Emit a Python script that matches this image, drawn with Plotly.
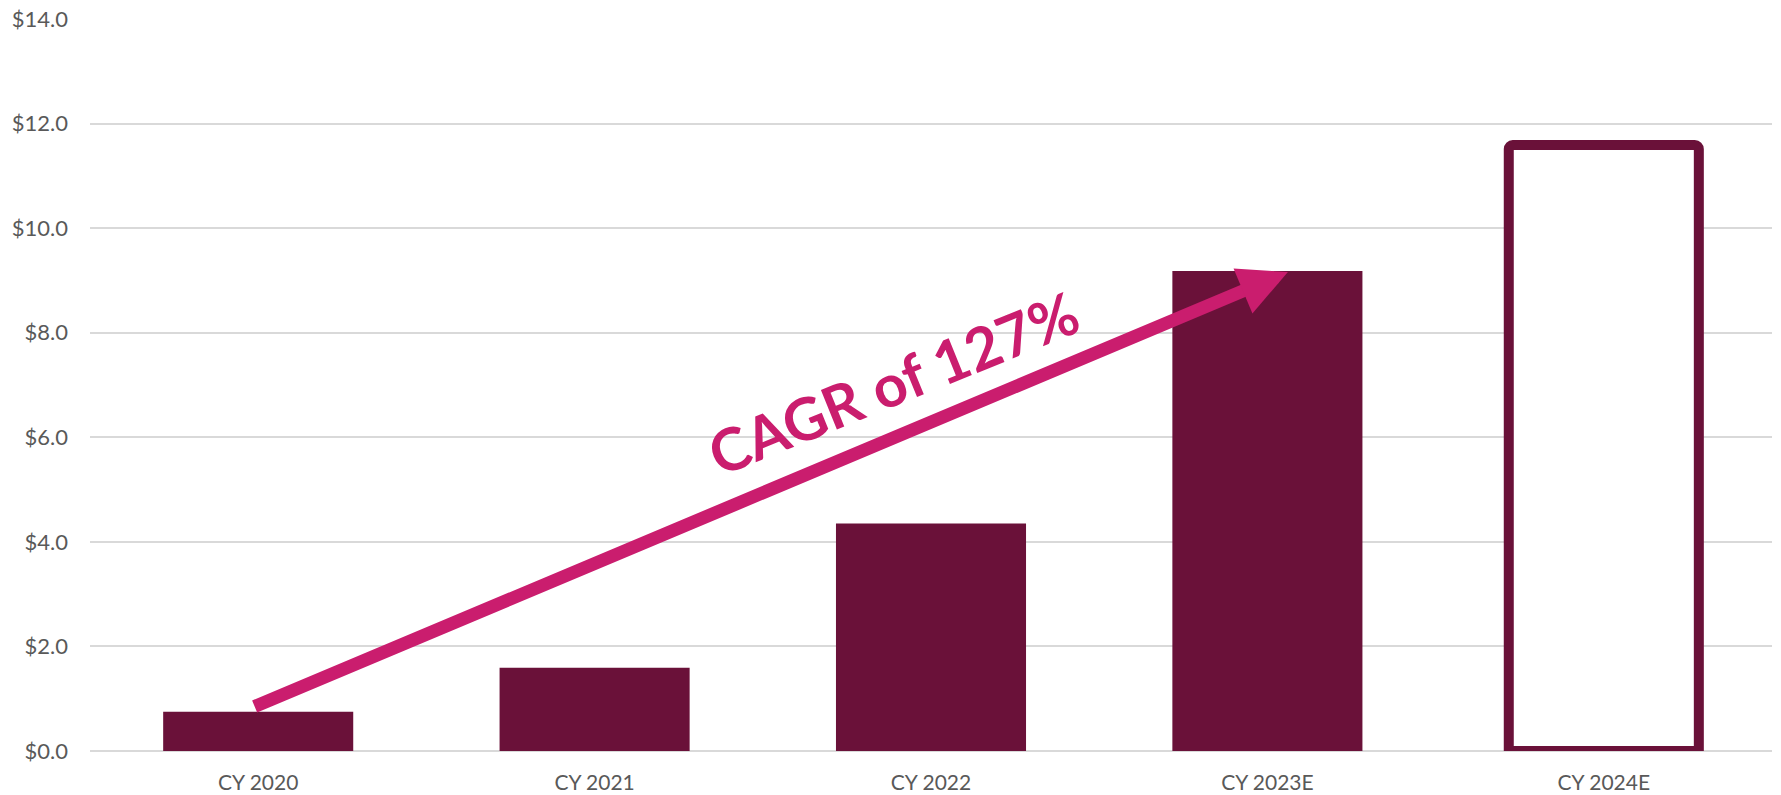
import plotly.graph_objects as go

categories = ["CY 2020", "CY 2021", "CY 2022", "CY 2023E", "CY 2024E"]
values = [0.75, 1.59, 4.35, 9.18, 11.59]
y_ticks = [0, 2, 4, 6, 8, 10, 12, 14]
y_tick_text = ["$%.1f" % v for v in y_ticks]
cagr_label = "CAGR of 127%"

maroon = "#6A1139"
pink = "#CA1D6E"

fig = go.Figure()
# actual years: filled bars
fig.add_trace(go.Bar(
    x=categories[:4], y=values[:4],
    marker=dict(color=maroon, line=dict(width=0)),
    width=0.565, hoverinfo="skip",
))
# estimate year: outlined bar
fig.add_trace(go.Bar(
    x=categories[4:], y=values[4:],
    marker=dict(color="white", line=dict(color=maroon, width=10), cornerradius=4),
    width=0.565, hoverinfo="skip",
))

# arrow from CY 2020 bar top to CY 2023E bar top
fig.add_annotation(
    x=3.061, y=9.16, ax=-0.015, ay=0.84,
    xref="x", yref="y", axref="x", ayref="y",
    text="", showarrow=True, arrowhead=2, arrowwidth=13, arrowsize=0.75,
    arrowcolor=pink, standoff=0,
)
fig.add_annotation(
    x=1.888, y=7.05, xref="x", yref="y",
    text=cagr_label, showarrow=False, textangle=-22,
    font=dict(family="Lato", size=59, color=pink, weight="bold"),
    xanchor="center", yanchor="middle",
)

fig.update_layout(
    width=1781, height=795,
    margin=dict(l=90, r=9, t=19, b=44),
    paper_bgcolor="white", plot_bgcolor="white",
    showlegend=False, barmode="overlay",
    font=dict(family="Lato", size=21, color="#595959"),
)
fig.update_xaxes(categoryorder="array", categoryarray=categories, automargin=False,
                 showline=False, showgrid=False, ticks="", ticklabelstandoff=17)
fig.update_yaxes(
    range=[0, 14], tickvals=y_ticks, ticktext=y_tick_text, automargin=False,
    tickfont=dict(size=22),
    showgrid=True, gridcolor="#D9D9D9", gridwidth=2,
    zeroline=True, zerolinecolor="#D9D9D9", zerolinewidth=2,
    showline=False, ticks="", ticklabelstandoff=21,
)

fig.write_html("out.html", config={"displayModeBar": False},
               post_script="document.body.style.margin='0';")
